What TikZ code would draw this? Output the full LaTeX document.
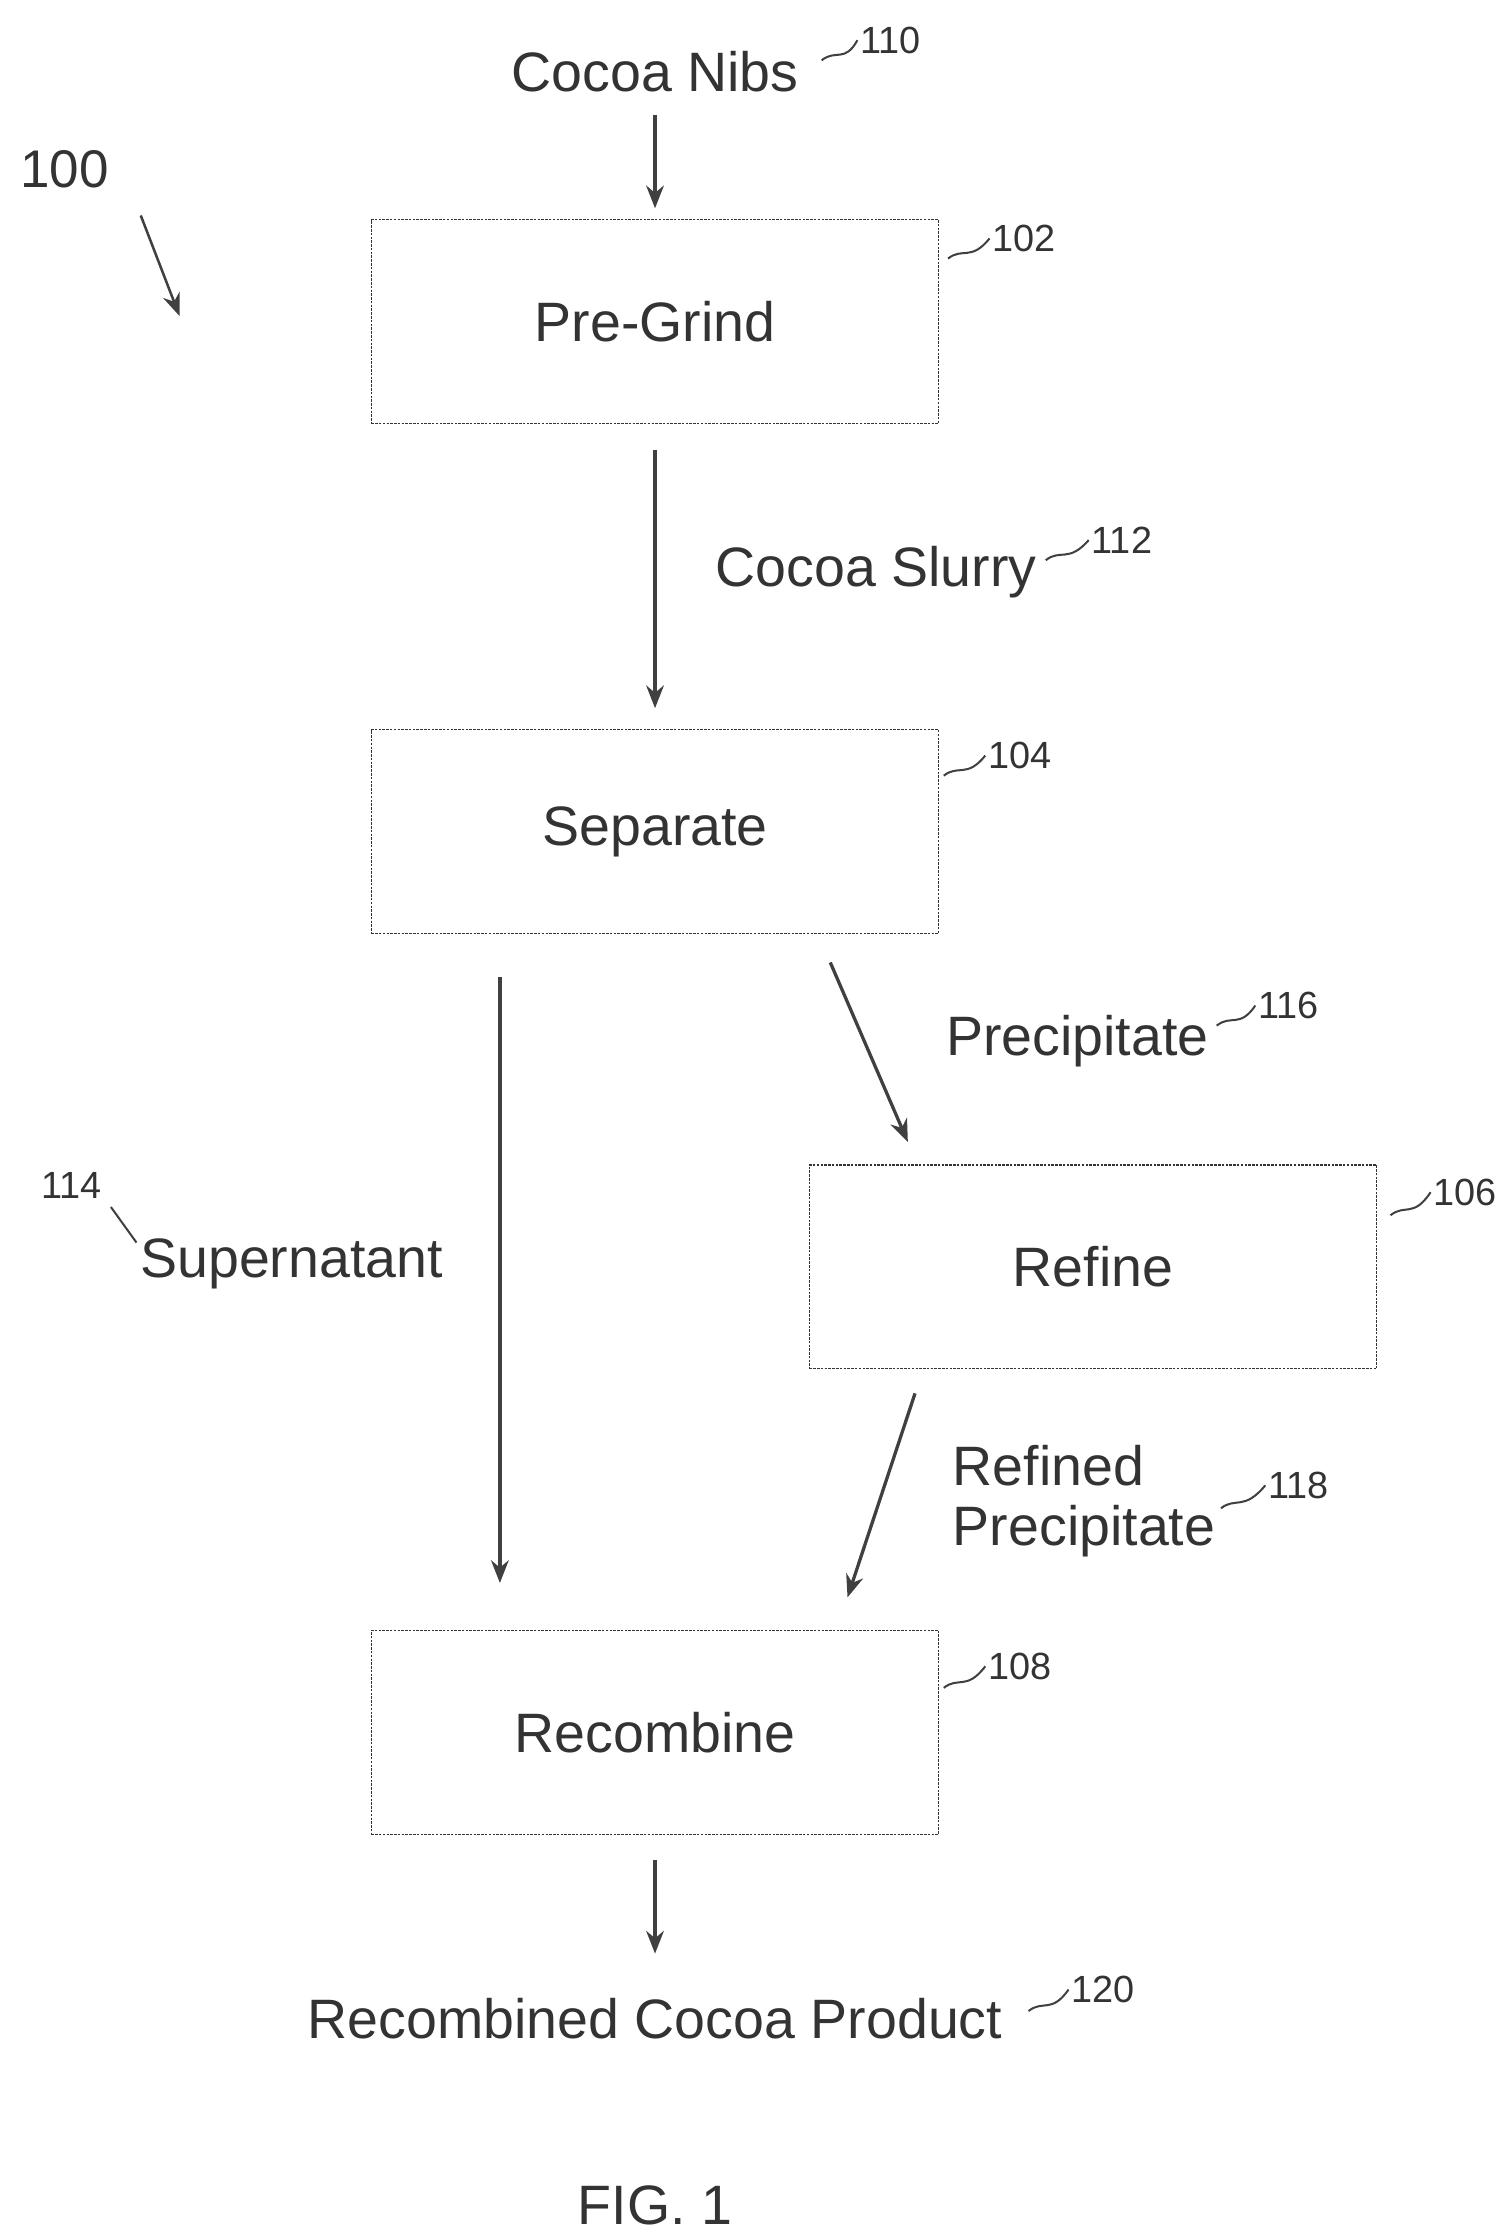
\documentclass[tikz,border=0pt]{standalone}
\usepackage{fontspec}
\setmainfont{Liberation Sans}
\usetikzlibrary{arrows.meta}
\begin{document}
\begin{tikzpicture}[x=0.02cm, y=-0.02cm,
    stage/.style={draw=black!80, dashed, dash pattern=on 1pt off 0.5pt, minimum width=7.9cm, minimum height=2.84cm, font=\fontsize{22}{24}\selectfont, text=black!80},
    lbl/.style={font=\fontsize{22}{24}\selectfont, text=black!80},
    refn/.style={font=\fontsize{15}{17}\selectfont, text=black!80},
    flow/.style={-{Stealth[length=9pt, width=7pt]}, line width=1.3pt, black!75},
    lead/.style={line width=0.8pt, black!75}]
    \useasboundingbox (0,0) rectangle (1050,1558) ;
    % boxes
    \node[stage] (grind) at (456,224) {Pre-Grind} ;
    \node[stage] (sep) at (456,579) {Separate} ;
    \node[stage] (refine) at (761,882) {Refine} ;
    \node[stage] (recomb) at (456,1206) {Recombine} ;
    % flow texts
    \node[lbl] (nibs) at (456,50) {Cocoa Nibs} ;
    \node[lbl] (slurry) at (610,398) {Cocoa Slurry} ;
    \node[lbl] (super) at (203,880) {Supernatant} ;
    \node[lbl] (precip) at (750,725) {Precipitate} ;
    \node[lbl, align=left, anchor=west, inner sep=0pt] (refprec) at (663,1045) {Refined\\Precipitate} ;
    \node[lbl] (prod) at (456,1405) {Recombined Cocoa Product} ;
    \node[lbl] (fig) at (456,1535) {FIG. 1} ;
    % arrows
    \coordinate (nibsend) at (456,145) ;
    \coordinate (grindout) at (456,313) ;
    \coordinate (sepin) at (456,493) ;
    \coordinate (supa) at (348,680) ;
    \coordinate (supb) at (348,1102) ;
    \coordinate (preca) at (578,670) ;
    \coordinate (precb) at (632,795) ;
    \coordinate (refa) at (637,970) ;
    \coordinate (refb) at (590,1112) ;
    \coordinate (reca) at (456,1295) ;
    \coordinate (recb) at (456,1360) ;
    \draw[flow] (nibs.south) ++(0,10) -- (nibsend) ;
    \draw[flow] (grindout) -- (sepin) ;
    \draw[flow] (supa) -- (supb) ;
    \draw[flow] (preca) -- (precb) ;
    \draw[flow] (refa) -- (refb) ;
    \draw[flow] (reca) -- (recb) ;
    % overall ref
    \node[font=\fontsize{21}{23}\selectfont, text=black!80] (n100) at (45,118) {100} ;
    \coordinate (a100) at (98,150) ;
    \coordinate (b100) at (125,220) ;
    \draw[flow, line width=1pt] (a100) -- (b100) ;
    % reference numerals
    \foreach \n/\x/\y/\lx/\ly in {110/620/28/572/42, 102/713/166/660/180, 112/781/376/728/390,
        104/710/526/657/540, 116/897/700/847/714, 106/1020/830/968/846,
        118/904/1034/850/1050, 108/710/1160/657/1175, 120/768/1385/716/1400}
    {
        \node[refn, inner sep=1pt] (r\n) at (\x,\y) {\n} ;
        \draw[lead] (\lx,\ly) .. controls (\lx+10,\ly-8) and (\lx+16,\ly+2) .. (r\n.west) ;
    }
    \node[refn] (r114) at (50,825) {114} ;
    \coordinate (l114) at (95,865) ;
    \draw[lead] (r114.south east) -- (l114) ;
\end{tikzpicture}
\end{document}
